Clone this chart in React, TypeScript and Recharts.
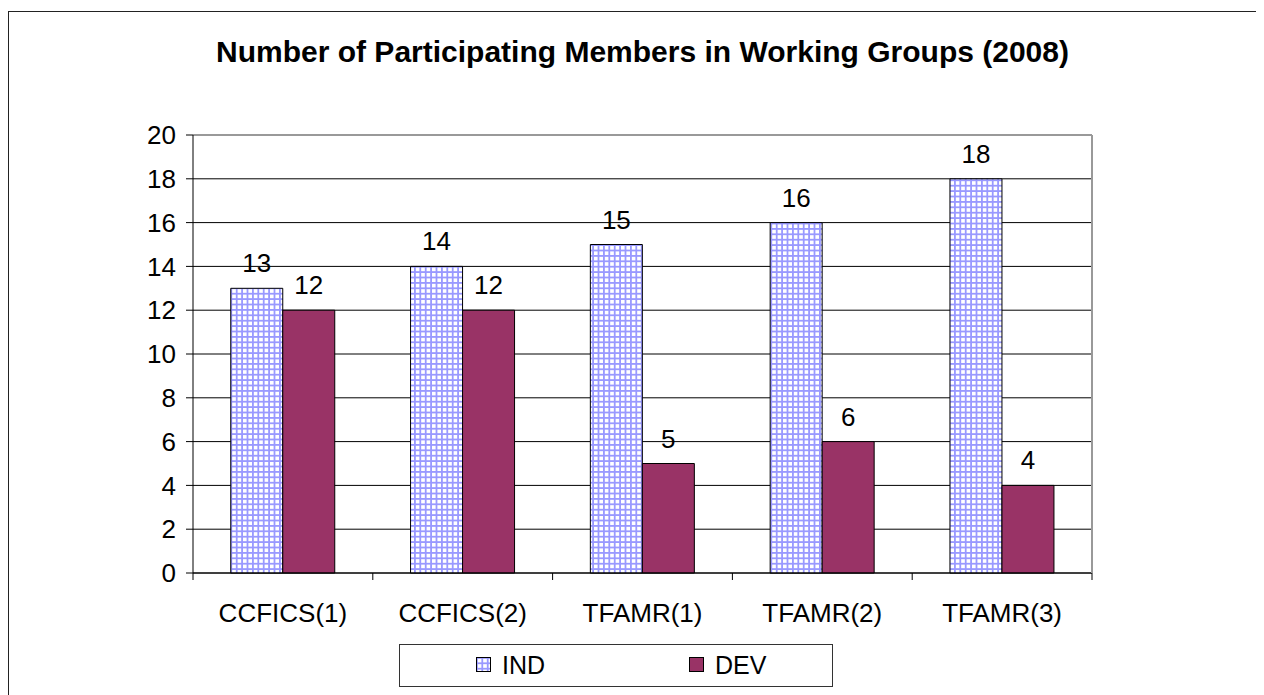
import {
  BarChart,
  Bar,
  XAxis,
  YAxis,
  CartesianGrid,
  Legend,
  LabelList,
  ReferenceLine,
} from 'recharts';

const groups = ['CCFICS(1)', 'CCFICS(2)', 'TFAMR(1)', 'TFAMR(2)', 'TFAMR(3)'];
const indMembers = [13, 14, 15, 16, 18];
const devMembers = [12, 12, 5, 6, 4];
const yTicks = [0, 2, 4, 6, 8, 10, 12, 14, 16, 18, 20];
const legendOrder = ['IND', 'DEV'];

const data = groups.map((group, i) => ({
  group,
  IND: indMembers[i],
  DEV: devMembers[i],
}));

const FONT = 'Arial, "Liberation Sans", Helvetica, sans-serif';
const DEV_COLOR = '#993366';

function GroupTick(props: any) {
  const { x, y, payload, index, visibleTicksCount } = props;
  const half = payload && payload.offset ? payload.offset : 90;
  const axisY = y - 7;
  return (
    <g>
      <line x1={x - half} x2={x - half} y1={axisY} y2={axisY + 7} stroke='#000' />
      {index === visibleTicksCount - 1 && (
        <line x1={x + half} x2={x + half} y1={axisY} y2={axisY + 7} stroke='#000' />
      )}
      <text
        x={x}
        y={axisY + 49}
        textAnchor='middle'
        fontSize={26}
        fontFamily={FONT}
        fill='#000'
      >
        {payload.value}
      </text>
    </g>
  );
}

function LegendBox(props: any) {
  const items = [...(props.payload || [])].sort(
    (a: any, b: any) => legendOrder.indexOf(a.value) - legendOrder.indexOf(b.value)
  );
  const spots = [76, 289];
  return (
    <div
      style={{
        position: 'relative',
        width: 434,
        height: 43,
        boxSizing: 'border-box',
        border: '1px solid #333',
        fontFamily: FONT,
        fontSize: 25,
        color: '#000',
        background: '#fff',
      }}
    >
      {items.map((item: any, i: number) => (
        <div key={item.value}>
          <svg
            width={15}
            height={15}
            style={{ position: 'absolute', left: spots[i], top: 12 }}
          >
            <rect
              x={0.5}
              y={0.5}
              width={14}
              height={14}
              fill={item.value === 'IND' ? 'url(#indGrid)' : DEV_COLOR}
              stroke='#000'
            />
          </svg>
          <span
            style={{
              position: 'absolute',
              left: spots[i] + 26,
              top: 5,
              lineHeight: '30px',
            }}
          >
            {item.value}
          </span>
        </div>
      ))}
    </div>
  );
}

export default function App() {
  return (
    <div style={{ paddingTop: 3 }}>
      <style>{'html,body{overflow:hidden}'}</style>
      <svg width={0} height={0} style={{ position: 'absolute' }}>
        <defs>
          <pattern
            id='indGrid'
            patternUnits='userSpaceOnUse'
            width={5.4}
            height={5.4}
          >
            <rect width={5.4} height={5.4} fill='#ffffff' />
            <rect width={1.8} height={5.4} fill='#9999ff' />
            <rect width={5.4} height={1.8} fill='#9999ff' />
          </pattern>
        </defs>
      </svg>
      <div
        style={{
          position: 'relative',
          width: 1300,
          height: 683,
          borderTop: '1px solid #222',
          borderLeft: '1px solid #222',
        }}
      >
        <div
          style={{
            position: 'absolute',
            left: 633.5,
            top: 25,
            transform: 'translateX(-50%)',
            whiteSpace: 'nowrap',
            fontFamily: FONT,
            fontWeight: 'bold',
            fontSize: 30,
            lineHeight: '30px',
            color: '#000',
          }}
        >
          Number of Participating Members in Working Groups (2008)
        </div>
        <BarChart
          width={1255}
          height={683}
          data={data}
          margin={{ top: 123, right: 171, bottom: 8, left: 104 }}
          barCategoryGap='21%'
          barGap={0}
        >
          <CartesianGrid vertical={false} stroke='#000' />
          <XAxis
            dataKey='group'
            height={71}
            tickSize={7}
            tickMargin={0}
            tickLine={false}
            axisLine={{ stroke: '#000' }}
            tick={<GroupTick />}
            interval={0}
          />
          <YAxis
            domain={[0, 20]}
            ticks={yTicks}
            width={80}
            tickSize={7}
            tickMargin={10}
            axisLine={{ stroke: '#000' }}
            tickLine={{ stroke: '#000' }}
            tick={{ fill: '#000', fontSize: 26, fontFamily: FONT }}
            interval={0}
          />
          <YAxis
            yAxisId='right'
            orientation='right'
            width={1}
            tick={false}
            tickLine={false}
            axisLine={{ stroke: '#999', strokeWidth: 2 }}
          />
          <ReferenceLine y={20} stroke='#999' strokeWidth={2} />
          <Legend
            verticalAlign='bottom'
            content={<LegendBox />}
            wrapperStyle={{ left: 390, top: 632, width: 434, height: 43 }}
          />
          <Bar
            dataKey='IND'
            fill='url(#indGrid)'
            stroke='#000'
            strokeWidth={1}
            isAnimationActive={false}
          >
            <LabelList
              dataKey='IND'
              position='top'
              offset={16}
              fill='#000'
              fontSize={26}
              fontFamily={FONT}
            />
          </Bar>
          <Bar
            dataKey='DEV'
            fill={DEV_COLOR}
            stroke='#000'
            strokeWidth={1}
            isAnimationActive={false}
          >
            <LabelList
              dataKey='DEV'
              position='top'
              offset={16}
              fill='#000'
              fontSize={26}
              fontFamily={FONT}
            />
          </Bar>
        </BarChart>
      </div>
    </div>
  );
}
